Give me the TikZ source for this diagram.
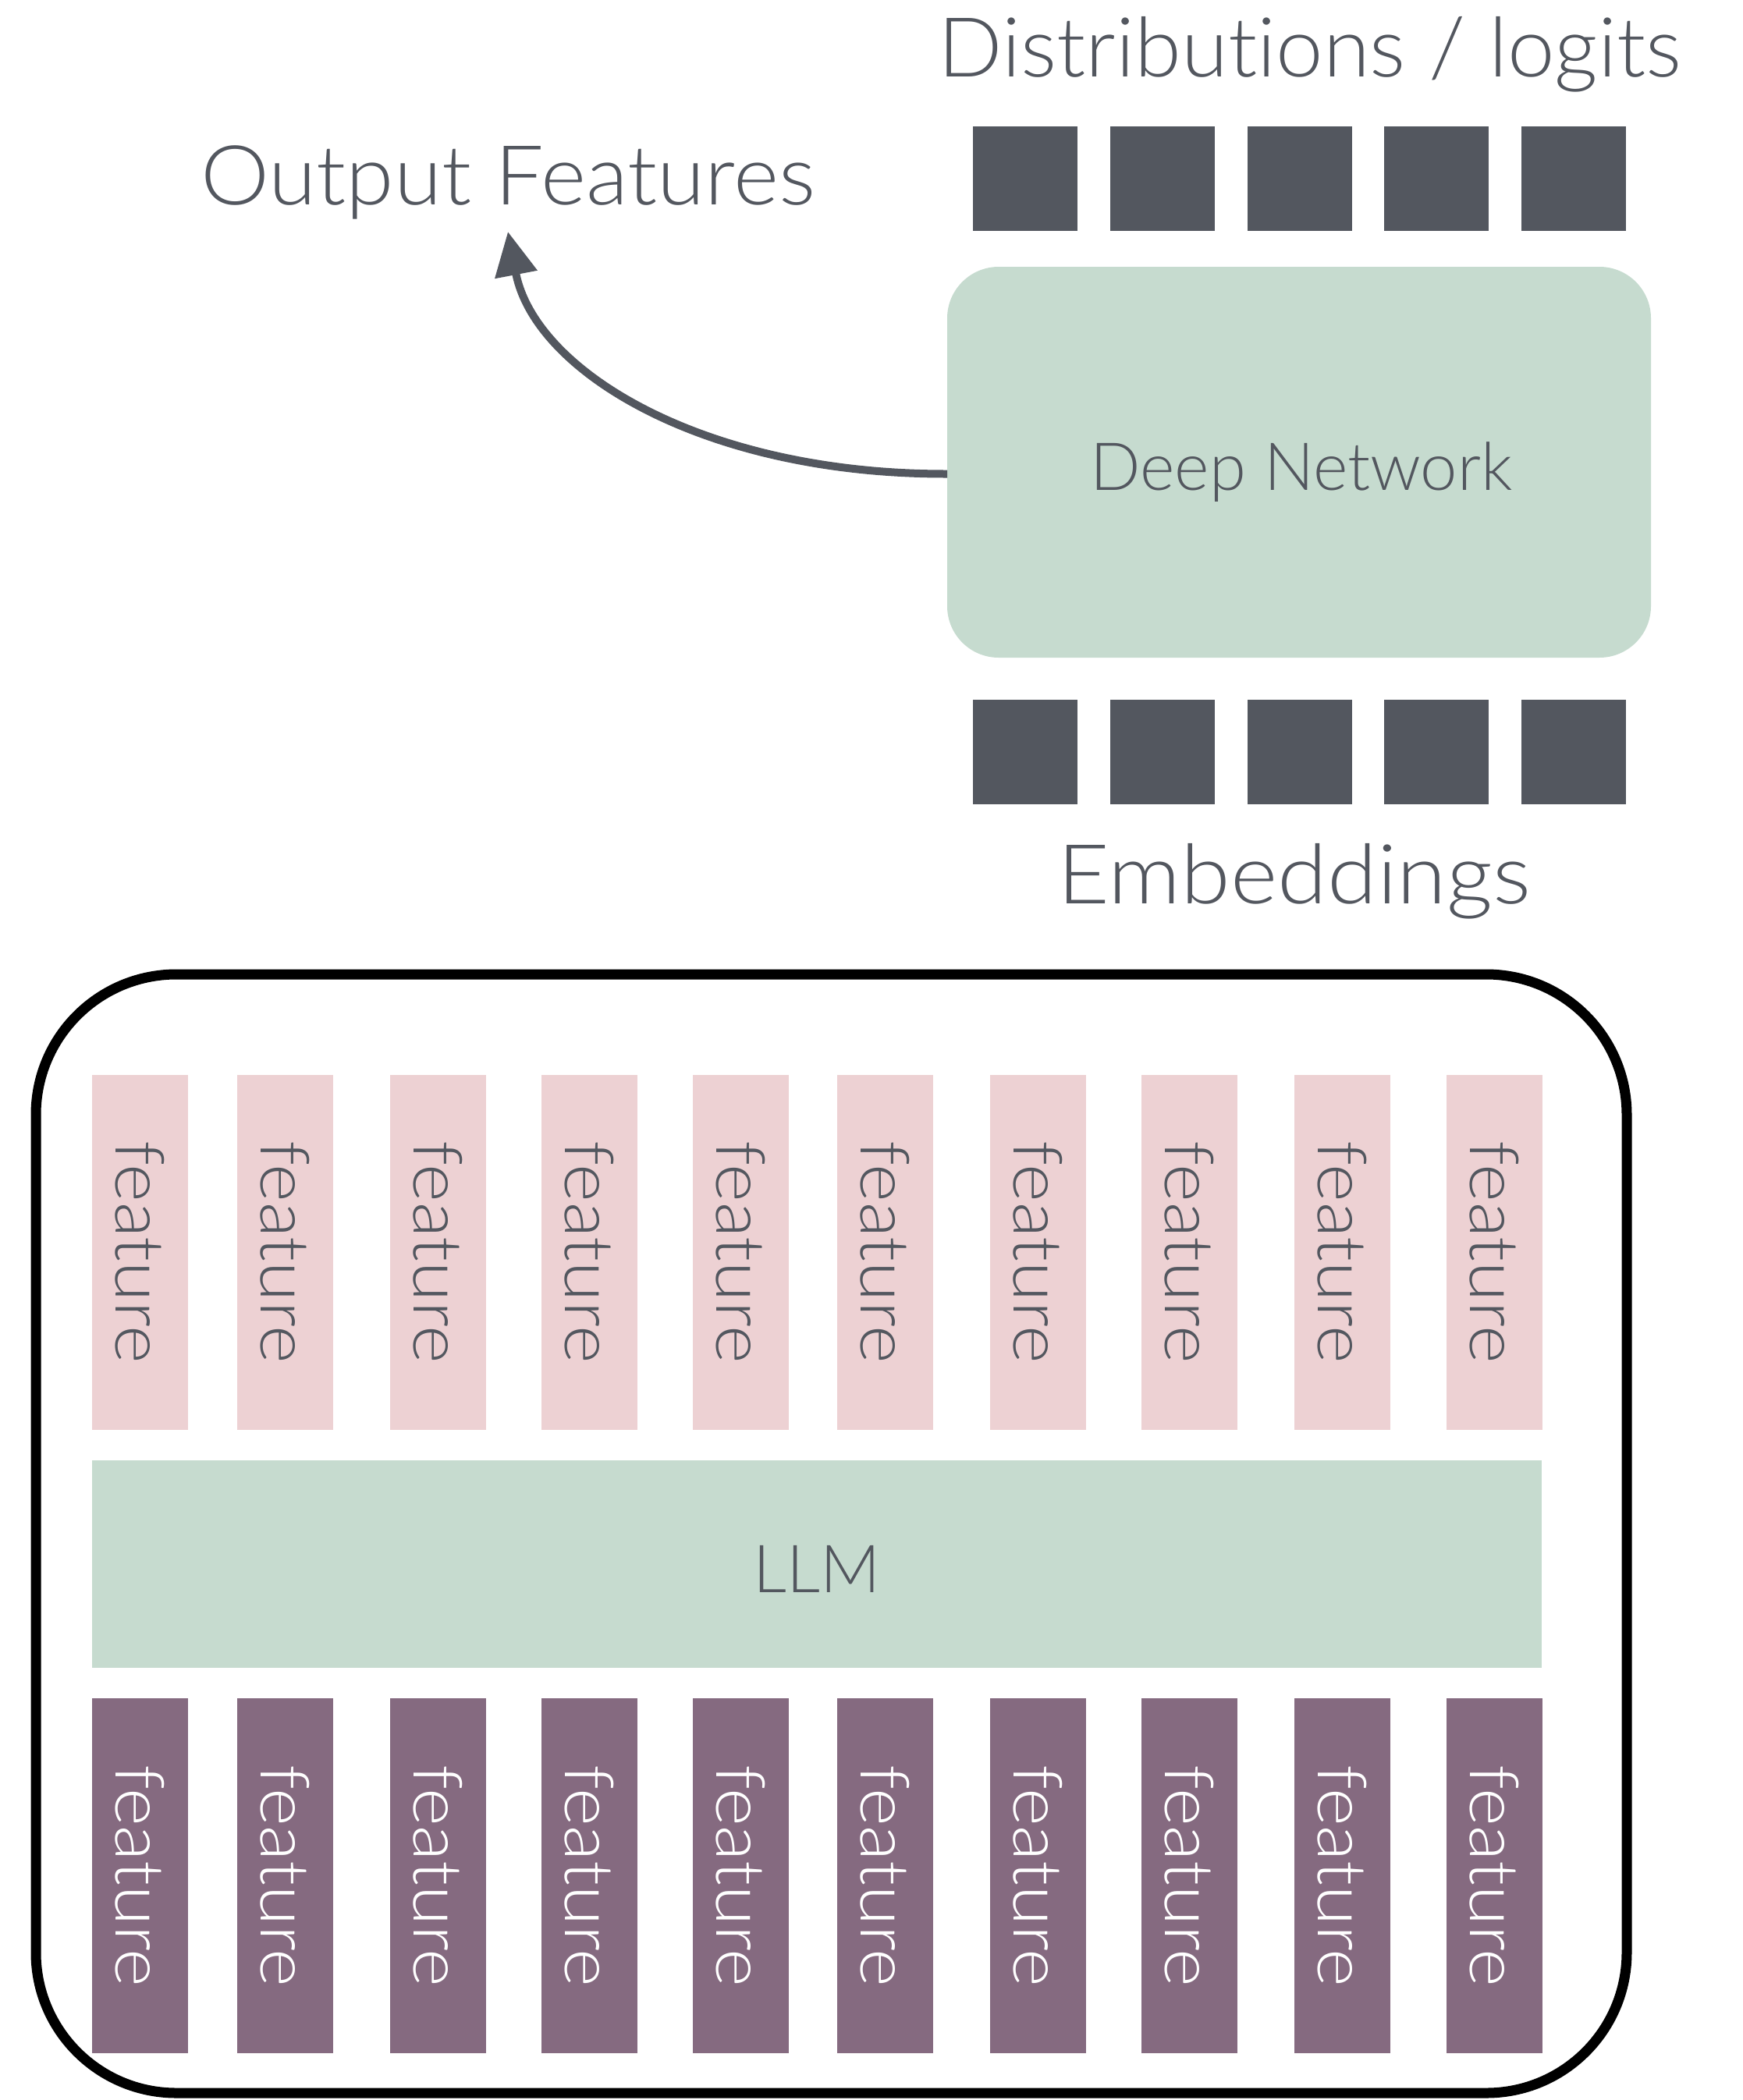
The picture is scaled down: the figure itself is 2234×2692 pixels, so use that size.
\documentclass[tikz,border=0pt]{standalone}
\usepackage{fontspec}
\setmainfont{Lato Light}[Ligatures={NoCommon,NoRare,NoContextual}]
\usetikzlibrary{arrows.meta}

\definecolor{ink}{HTML}{53575F}
\definecolor{sage}{HTML}{C6DBCF}
\definecolor{blush}{HTML}{EDD1D3}
\definecolor{plum}{HTML}{856A80}

\tikzset{
  token/.style={fill=ink, inner sep=0pt, outer sep=0pt, minimum width=134pt, minimum height=134pt},
  bigtext/.style={text=ink, inner sep=0pt},
  boxtext/.style={text=ink, inner sep=0pt, font=\fontsize{85}{100}\selectfont},
  featbar/.style={inner sep=0pt, outer sep=0pt, rotate=-90,
    minimum width=455pt, minimum height=123pt,
    font=\fontsize{87}{100}\selectfont\addfontfeature{FakeStretch=1.07}},
  infeat/.style={featbar, fill=blush, text=ink},
  outfeat/.style={featbar, fill=plum, text=white},
}
\newcommand\bigfont[1]{\fontsize{106}{120}\selectfont\addfontfeature{FakeStretch=#1}}

\begin{document}
\begin{tikzpicture}[x=1pt, y=-1pt]
  \useasboundingbox (0,0) rectangle (2234,2692);

  % labels
  \node[bigtext, anchor=base, font=\bigfont{1.025}] (distlbl) at (1679,99) {Distributions / logits};
  \node[bigtext, anchor=base, font=\bigfont{1.05}] (outlbl) at (651,262) {Output Features};
  \node[bigtext, anchor=base, font=\bigfont{1.09}] (emblbl) at (1659,1158) {Embeddings};

  % output tokens
  \foreach \i/\x in {1/1314, 2/1490, 3/1666, 4/1841, 5/2017}
    \node[token] (top\i) at (\x,229) {};

  % deep network
  \node[fill=sage, rounded corners=66pt, inner sep=0pt, outer sep=0pt,
        minimum width=902pt, minimum height=501pt] (dnet) at (1665,592.5) {};
  \node[boxtext, anchor=base] (dnetlbl) at (1668,628) {Deep Network};

  % input embeddings
  \foreach \i/\x in {1/1314, 2/1490, 3/1666, 4/1841, 5/2017}
    \node[token] (bot\i) at (\x,964) {};

  % curved arrow to the output features
  \coordinate (tip) at (651,297);
  \draw[ink, line width=10pt, -{Triangle[length=56pt, width=53pt]}]
    ([yshift=-15pt]dnet.west) .. controls (900,608) and (685,475) .. (tip);

  % LLM container
  \node[draw=black, line width=13pt, rounded corners=180pt, inner sep=0pt,
        minimum width=2039pt, minimum height=1434pt] (frame) at (1065.5,1966) {};

  \foreach \i/\x in {1/179, 2/365, 3/561, 4/755, 5/949, 6/1134, 7/1330, 8/1524, 9/1720, 10/1915} {
    \node[infeat] (up\i) at (\x,1605) {feature};
    \node[outfeat] (lo\i) at (\x,2404.5) {feature};
  }

  \node[fill=sage, inner sep=0pt, outer sep=0pt, minimum width=1858pt, minimum height=266pt] (llm) at (1047,2005) {};
  \node[boxtext, anchor=base] (llmlbl) at (1047,2041) {LLM};
\end{tikzpicture}
\end{document}
